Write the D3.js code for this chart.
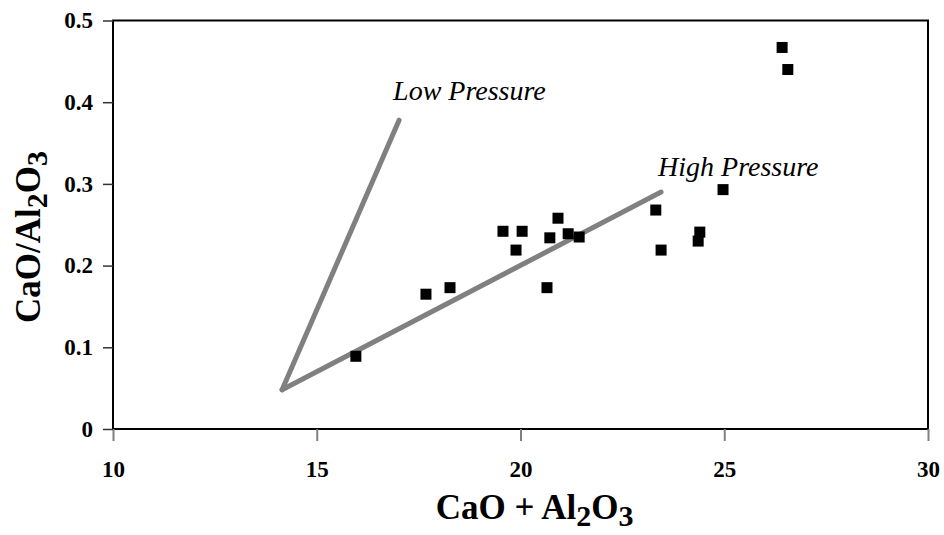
<!DOCTYPE html>
<html>
<head>
<meta charset="utf-8">
<script src="https://cdn.jsdelivr.net/npm/d3@7"></script>
<style>
  body { margin: 0; background: #fff; }
  text { font-family: "Liberation Serif", "Times New Roman", serif; }
</style>
</head>
<body>
<div id="chart"></div>
<script>
// sample points, CaO + Al2O3 vs CaO/Al2O3
var sumVals   = [15.96, 17.68, 18.27, 19.57, 19.89, 20.04, 20.65, 20.72, 20.92, 21.17, 21.44, 23.32, 23.45, 24.36, 24.40, 24.97, 26.42, 26.56];
var ratioVals = [0.089, 0.165, 0.173, 0.242, 0.219, 0.242, 0.173, 0.234, 0.258, 0.239, 0.235, 0.268, 0.219, 0.230, 0.241, 0.293, 0.467, 0.440];

// trend lines share a vertex
var lowPressure  = [[14.15, 0.048], [17.02, 0.378]];
var highPressure = [[14.15, 0.048], [23.45, 0.29]];

var xTicks = [10, 15, 20, 25, 30];
var yTicks = [0, 0.1, 0.2, 0.3, 0.4, 0.5];

var width = 944, height = 535;
var margin = {top: 20.5, right: 16, bottom: 106, left: 113};

var svg = d3.select("#chart").append("svg")
    .attr("width", width)
    .attr("height", height);

var x = d3.scaleLinear().domain([10, 30]).range([margin.left, width - margin.right]);
var y = d3.scaleLinear().domain([0, 0.5]).range([height - margin.bottom, margin.top]);

// frame
svg.append("rect")
    .attr("x", x(10))
    .attr("y", y(0.5))
    .attr("width", x(30) - x(10))
    .attr("height", y(0) - y(0.5))
    .attr("fill", "none")
    .attr("stroke", "#000")
    .attr("stroke-width", 2);

var xAxis = svg.append("g")
    .attr("transform", "translate(0," + y(0) + ")")
    .call(d3.axisBottom(x).tickValues(xTicks).tickSize(12).tickPadding(20).tickFormat(d3.format("d")));
xAxis.select(".domain").remove();
xAxis.selectAll("line").attr("stroke", "#808080").attr("stroke-width", 2);
xAxis.selectAll("text")
    .attr("fill", "#000")
    .style("font-size", "23px")
    .style("font-weight", "bold");

var yAxis = svg.append("g")
    .attr("transform", "translate(" + x(10) + ",0)")
    .call(d3.axisLeft(y).tickValues(yTicks).tickSize(10).tickPadding(10)
        .tickFormat(function(d){ return d === 0 ? "0" : d3.format(".1f")(d); }));
yAxis.select(".domain").remove();
yAxis.selectAll("line").attr("stroke", "#333").attr("stroke-width", 1.5);
yAxis.selectAll("text")
    .attr("fill", "#000")
    .style("font-size", "23px")
    .style("font-weight", "bold");

// pressure lines
var line = d3.line()
    .x(function(d){ return x(d[0]); })
    .y(function(d){ return y(d[1]); });

[lowPressure, highPressure].forEach(function(pts){
  svg.append("path")
      .datum(pts)
      .attr("d", line)
      .attr("fill", "none")
      .attr("stroke", "#808080")
      .attr("stroke-width", 5)
      .attr("stroke-linecap", "round")
      .attr("stroke-linejoin", "miter");
});

svg.append("text")
    .attr("x", x(lowPressure[1][0]) - 6)
    .attr("y", y(lowPressure[1][1]) - 20)
    .style("font-size", "28px")
    .style("font-style", "italic")
    .text("Low Pressure");

svg.append("text")
    .attr("x", x(highPressure[1][0]) - 3)
    .attr("y", y(highPressure[1][1]) - 16)
    .style("font-size", "28px")
    .style("font-style", "italic")
    .text("High Pressure");

// points
var sq = 11;
svg.selectAll("rect.pt")
    .data(sumVals)
    .enter()
    .append("rect")
    .attr("class", "pt")
    .attr("width", sq)
    .attr("height", sq)
    .attr("x", function(d){ return x(d) - sq / 2; })
    .attr("y", function(d, i){ return y(ratioVals[i]) - sq / 2; })
    .attr("fill", "#000");

// axis titles
function formula(el, main){
  el.append("tspan").text(main);
  el.append("tspan").attr("dy", 7).style("font-size", "30px").text("2");
  el.append("tspan").attr("dy", -7).text("O");
  el.append("tspan").attr("dy", 7).style("font-size", "30px").text("3");
}

var xt = svg.append("text")
    .attr("x", (x(10) + x(30)) / 2 + 14)
    .attr("y", 519)
    .attr("text-anchor", "middle")
    .style("font-size", "35px")
    .style("font-weight", "bold");
formula(xt, "CaO + Al");

var yt = svg.append("text")
    .attr("transform", "translate(40,237) rotate(-90)")
    .attr("text-anchor", "middle")
    .style("font-size", "35px")
    .style("font-weight", "bold");
formula(yt, "CaO/Al");
</script>
</body>
</html>
